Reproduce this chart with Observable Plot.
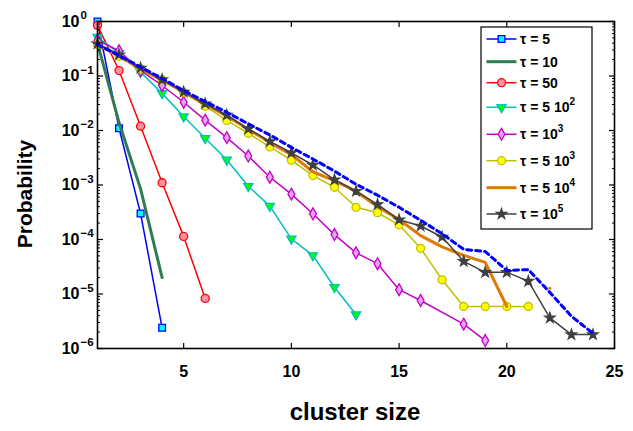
<!DOCTYPE html>
<html><head><meta charset="utf-8">
<script src="https://cdn.jsdelivr.net/npm/d3@7"></script>
<script src="https://cdn.jsdelivr.net/npm/@observablehq/plot@0.6"></script>
<style>body{margin:0;background:#fff} svg{display:block}</style>
</head><body><div id="chart"></div>
<script>
// ---------- data ----------
const clusterSize = [1,2,3,4,5,6,7,8,9,10,11,12,13,14,15,16,17,18,19,20,21,22,23,24];
const tau5    = [1.0, 0.011, 3.0e-4, 2.4e-6];
const tau10   = [0.40, 0.014, 8.5e-4, 2.0e-5];
const tau50   = [0.85, 0.126, 0.012, 1.1e-3, 1.14e-4, 8.3e-6];
const tau500  = [0.52, 0.26, 0.117, 0.048, 0.018, 7.2e-3, 2.9e-3, 9.5e-4, 4.1e-4, 1.03e-4, 5.1e-5, 1.33e-5, 4.2e-6];
const tau1e3  = [0.45, 0.29, 0.126, 0.067, 0.033, 0.0155, 7.4e-3, 3.4e-3, 1.39e-3, 6.8e-4, 2.96e-4, 1.23e-4, 5.7e-5, 3.6e-5, 1.2e-5, 7.6e-6, null, 2.8e-6, 1.4e-6];
const tau5e3  = [0.38, 0.23, 0.135, 0.085, 0.050, 0.0279, 0.0153, 8.9e-3, 5.0e-3, 2.85e-3, 1.49e-3, 9.1e-4, 3.9e-4, 3.1e-4, 1.86e-4, 6.9e-5, 1.82e-5, 5.9e-6, 5.9e-6, 5.9e-6, 5.9e-6];
const tau5e4  = [0.38, 0.23, 0.135, 0.084, 0.051, 0.030, 0.0185, 0.0105, 6.0e-3, 3.6e-3, 1.75e-3, 1.2e-3, 7.7e-4, 4.0e-4, 2.33e-4, 1.18e-4, 7.3e-5, 5.1e-5, 3.8e-5, 5.9e-6, null, 1.27e-5];
const tau1e5  = [0.39, 0.245, 0.140, 0.086, 0.051, 0.031, 0.0192, 0.0107, 6.3e-3, 3.9e-3, 2.33e-3, 1.25e-3, 7.7e-4, 4.4e-4, 2.3e-4, 1.77e-4, 1.11e-4, 3.98e-5, 2.5e-5, 2.5e-5, 1.72e-5, 3.65e-6, 1.8e-6, 1.8e-6];
const dashedRef = [0.378, 0.238, 0.146, 0.090, 0.054, 0.034, 0.0216, 0.0132, 8.3e-3, 4.9e-3, 3.0e-3, 1.8e-3, 1.03e-3, 6.5e-4, 3.9e-4, 2.25e-4, 1.27e-4, 6.6e-5, 6.0e-5, 2.7e-5, 2.8e-5, 1.07e-5, 3.9e-6, 1.9e-6];

const legendBase = ["τ = 5", "τ = 10", "τ = 50", "τ = 5 10", "τ = 10", "τ = 5 10", "τ = 5 10", "τ = 10"];
const legendSup  = ["", "", "", "2", "3", "3", "4", "5"];

const xTickValues = [5, 10, 15, 20, 25];
const yTickExponents = [0, -1, -2, -3, -4, -5, -6];

// ---------- styles ----------
const styles = [
  {values: tau5,   stroke: "#0000ff", sw: 1.5, symbol: "square",   fill: "#00ffff", r: 3.8},
  {values: tau10,  stroke: "#2e7d52", sw: 3,   symbol: null},
  {values: tau50,  stroke: "#ff0000", sw: 1.5, symbol: "circle",   fill: "#ff8fa3", r: 4},
  {values: tau500, stroke: "#00bfbf", sw: 1.5, symbol: "triangle", fill: "#00ff00", r: 3.4, rotate: 180},
  {values: tau1e3, stroke: "#c800c8", sw: 1.5, symbol: "diamond",  fill: "#e2a6ee", r: 3.6, bridge: true},
  {values: tau5e3, stroke: "#c0c000", sw: 1.5, symbol: "circle",   fill: "#ffff00", r: 4},
  {values: tau5e4, stroke: "#df7a00", sw: 3,   symbol: null},
  {values: tau1e5, stroke: "#404040", sw: 1.5, symbol: "star",     fill: "#404040", r: 3.2}
];

const toRows = vals => vals.map((v, i) => ({x: clusterSize[i], y: v}));

const yMajor = yTickExponents.map(e => Math.pow(10, e));
const yMinor = yTickExponents.slice(1).flatMap(e => [2,3,4,5,6,7,8,9].map(k => k * Math.pow(10, e)));

const marks = [];
styles.forEach(s => {
  let rows = toRows(s.values);
  const lineRows = s.bridge ? rows.filter(d => d.y != null) : rows;
  marks.push(Plot.line(lineRows, {x: "x", y: "y", stroke: s.stroke, strokeWidth: s.sw, curve: "linear"}));
  const iso = rows.filter((d, i) => d.y != null && (rows[i-1] == null || rows[i-1].y == null) && (rows[i+1] == null || rows[i+1].y == null));
  if (iso.length) marks.push(Plot.dot(iso, {x: "x", y: "y", r: 1.3, fill: s.stroke}));
  if (s.symbol) {
    marks.push(Plot.dot(rows.filter(d => d.y != null), {
      x: "x", y: "y", symbol: s.symbol, r: s.r, fill: s.fill, stroke: s.stroke,
      strokeWidth: 1.3, rotate: s.rotate || 0
    }));
  }
});
marks.push(Plot.line(toRows(dashedRef), {x: "x", y: "y", stroke: "#0000ff", strokeWidth: 3, strokeDasharray: "5,4"}));

const fontFam = "'Liberation Sans', Arial, Helvetica, sans-serif";

const plot = Plot.plot({
  width: 633, height: 431,
  marginLeft: 97, marginRight: 19, marginTop: 21, marginBottom: 83,
  style: {fontFamily: fontFam, background: "white", color: "black", overflow: "visible"},
  x: {domain: [1, 25]},
  y: {type: "log", domain: [1e-6, 1]},
  marks: [
    ...marks,
    Plot.frame({stroke: "black", strokeWidth: 1.6}),
    Plot.axisX(xTickValues, {anchor: "bottom", tickSize: -5, tickFormat: () => "", label: null, strokeWidth: 1.2}),
    Plot.axisX(xTickValues, {anchor: "top", tickSize: -5, tickFormat: () => "", label: null, strokeWidth: 1.2}),
    Plot.axisY(yMajor, {anchor: "left", tickSize: -6, tickFormat: () => "", label: null, strokeWidth: 1.2}),
    Plot.axisY(yMajor, {anchor: "right", tickSize: -6, tickFormat: () => "", label: null, strokeWidth: 1.2}),
    Plot.axisY(yMinor, {anchor: "left", tickSize: -3, tickFormat: () => "", label: null, strokeWidth: 1}),
    Plot.axisY(yMinor, {anchor: "right", tickSize: -3, tickFormat: () => "", label: null, strokeWidth: 1}),
    Plot.axisX(xTickValues, {anchor: "bottom", tickSize: 0, tickPadding: 17, fontSize: 16, fontWeight: "bold", label: null}),
    Plot.text(yMajor, {y: d => d, text: () => "10", frameAnchor: "left", dx: -18, textAnchor: "end", fontSize: 16, fontWeight: "bold"}),
    Plot.text(yMajor, {y: d => d, text: d => { const e = Math.round(Math.log10(d)); return e < 0 ? "\u2212" + (-e) : String(e); },
      frameAnchor: "left", dx: -17, dy: -6, textAnchor: "start", fontSize: 11.5, fontWeight: "bold"})
  ]
});

const svg = d3.select(plot);
svg.append("text").attr("transform", "translate(32,194) rotate(-90)")
  .attr("text-anchor", "middle").attr("font-family", fontFam).attr("font-weight", "bold")
  .attr("font-size", 21).attr("fill", "black").text("Probability");
svg.append("text").attr("x", 355).attr("y", 420)
  .attr("text-anchor", "middle").attr("font-family", fontFam).attr("font-weight", "bold")
  .attr("font-size", 24).attr("fill", "black").text("cluster size");

// legend
const lg = svg.append("g");
lg.append("rect").attr("x", 481).attr("y", 27).attr("width", 111).attr("height", 202)
  .attr("fill", "white").attr("stroke", "black").attr("stroke-width", 1.2);
const rowY = [39, 61.7, 82.7, 107.3, 134.3, 160.7, 187.7, 214];
const symMap = {square: d3.symbolSquare, circle: d3.symbolCircle, triangle: d3.symbolTriangle, diamond: d3.symbolDiamond, star: d3.symbolStar};
styles.forEach((s, i) => {
  const y = rowY[i];
  lg.append("line").attr("x1", 486.5).attr("x2", 516.5).attr("y1", y).attr("y2", y)
    .attr("stroke", s.stroke).attr("stroke-width", s.sw);
  if (s.symbol) {
    lg.append("path").attr("d", d3.symbol(symMap[s.symbol], s.r * s.r * Math.PI)())
      .attr("transform", `translate(501.5,${y}) rotate(${s.rotate || 0})`)
      .attr("fill", s.fill).attr("stroke", s.stroke).attr("stroke-width", 1.3);
  }
  const t = lg.append("text").attr("x", 520).attr("y", y + 5).attr("text-anchor", "start").attr("font-family", fontFam)
    .attr("font-weight", "bold").attr("font-size", 14).attr("fill", "black").text(legendBase[i]);
  if (legendSup[i]) t.append("tspan").attr("dy", -7).attr("font-size", 10).text(legendSup[i]);
});

document.getElementById("chart").appendChild(plot);
</script>
</body></html>
